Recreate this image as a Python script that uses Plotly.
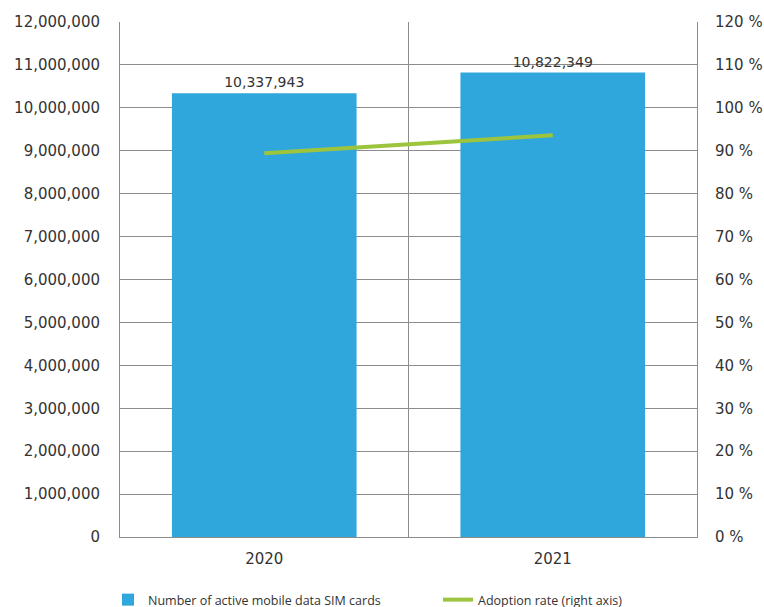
import plotly.graph_objects as go

years = ["2020", "2021"]
sim_cards = [10337943, 10822349]
adoption_rate = [89.4, 93.6]

left_ticks = list(range(0, 12000001, 1000000))
left_labels = [f"{v:,}" for v in left_ticks]
right_ticks = list(range(0, 121, 10))
right_labels = [f"{v} %" for v in right_ticks]

bar_color = "#2fa7dc"
line_color = "#9cc43c"
grid_color = "#8c8c8c"
text_color = "#333333"
tick_font = dict(family="DejaVu Sans", size=15, color=text_color)
legend_font = dict(family="Open Sans", size=12.5, color=text_color)

fig = go.Figure()
fig.add_trace(go.Bar(
    x=years, y=sim_cards, name="Number of active mobile data SIM cards",
    marker=dict(color=bar_color, line=dict(width=0)),
    text=[f"{v:,}" for v in sim_cards], textposition="outside",
    textfont=dict(family="DejaVu Sans", size=14, color=text_color),
    cliponaxis=False, legend="legend",
))
fig.add_trace(go.Scatter(
    x=years, y=adoption_rate, name="Adoption rate (right axis)", yaxis="y2",
    mode="lines", line=dict(color=line_color, width=4), legend="legend2",
))

# divider between the two year categories
fig.add_shape(type="line", xref="x", yref="paper", x0=0.5, x1=0.5, y0=0, y1=1,
              line=dict(color=grid_color, width=1), layer="below")

legend_common = dict(orientation="h", xref="container", yref="container",
                     yanchor="middle", y=1 - 600 / 607, xanchor="left",
                     font=legend_font, itemwidth=30, bgcolor="rgba(0,0,0,0)")

fig.update_layout(
    width=764, height=607,
    margin=dict(l=120, r=67, t=22, b=70, autoexpand=False),
    paper_bgcolor="white", plot_bgcolor="white",
    bargap=0.36,
    showlegend=True,
    legend=dict(x=108 / 764, **legend_common),
    legend2=dict(x=438 / 764, **legend_common),
    xaxis=dict(type="category", tickfont=tick_font, showgrid=False,
               showline=True, linecolor=grid_color, linewidth=1, ticks="",
               ticklabelstandoff=8, automargin=False),
    yaxis=dict(range=[0, 12000000], tickvals=left_ticks, ticktext=left_labels,
               tickfont=tick_font, showgrid=True, gridcolor=grid_color, gridwidth=1,
               showline=True, linecolor=grid_color, linewidth=1, zeroline=False,
               ticks="", ticklabelstandoff=16, automargin=False),
    yaxis2=dict(range=[0, 120], tickvals=right_ticks, ticktext=right_labels,
                overlaying="y", side="right", tickfont=tick_font, showgrid=False,
                showline=True, linecolor=grid_color, linewidth=1, zeroline=False,
                ticks="", ticklabelstandoff=14, automargin=False),
)

fig.write_html("out.html")
